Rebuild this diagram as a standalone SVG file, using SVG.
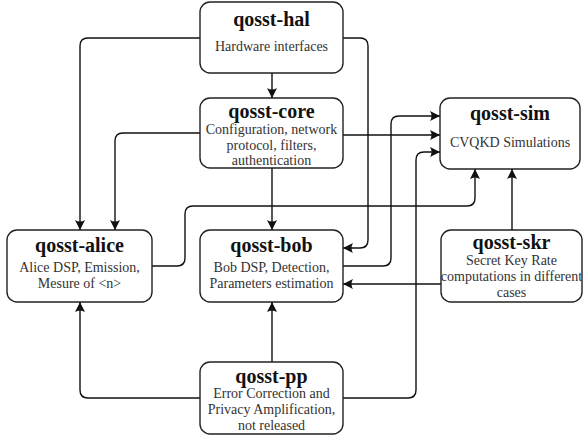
<svg xmlns="http://www.w3.org/2000/svg" width="584" height="441" viewBox="0 0 584 441">
<style>
.box{fill:#fff;stroke:#222;stroke-width:1.4}
text{font-family:'Liberation Serif','Times New Roman','DejaVu Serif',serif;text-anchor:middle}
.t{font-weight:bold;font-size:20px;fill:#111}
.d{font-size:14px;fill:#333}
.c{fill:none;stroke:#111;stroke-width:1.4;marker-end:url(#ah)}
</style>
<defs>
<marker id="ah" viewBox="-11 -6 12 12" refX="0" refY="0" markerWidth="12" markerHeight="12" orient="auto" markerUnits="userSpaceOnUse">
<path d="M0,0 L-10,-5 Q-7,0 -10,5 Z" fill="#111"/>
</marker>
</defs>
<g id="connectors">
<path class="c" d="M272,73 V98"/>
<path class="c" d="M200,38 H88 Q80,38 80,46 V230"/>
<path class="c" d="M200,133 H123 Q115,133 115,141 V230"/>
<path class="c" d="M343,38 H360 Q368,38 368,46 V240 Q368,248 360,248 H343"/>
<path class="c" d="M343,135 H440"/>
<path class="c" d="M272,168 V230"/>
<path class="c" d="M343,266 H383 Q391,266 391,258 V124 Q391,116 399,116 H440"/>
<path class="c" d="M152,266 H177 Q185,266 185,258 V214 Q185,206 193,206 H467 Q475,206 475,198 V169"/>
<path class="c" d="M512,230 V169"/>
<path class="c" d="M441,284 H343"/>
<path class="c" d="M200,398 H88 Q80,398 80,390 V302"/>
<path class="c" d="M272,362 V302"/>
<path class="c" d="M343,398 H408 Q416,398 416,390 V160 Q416,152 424,152 H440"/>
</g>
<g id="hal">
<rect class="box" x="200" y="2" width="143" height="71" rx="10"/>
<text class="t" x="271.5" y="26">qosst-hal</text>
<text class="d" x="271.5" y="51">Hardware interfaces</text>
</g>
<g id="core">
<rect class="box" x="200" y="98" width="143" height="70" rx="10"/>
<text class="t" x="271.5" y="118">qosst-core</text>
<text class="d" x="271.5" y="134">Configuration, network</text>
<text class="d" x="271.5" y="150">protocol, filters,</text>
<text class="d" x="271.5" y="165">authentication</text>
</g>
<g id="sim">
<rect class="box" x="440" y="98" width="140" height="71" rx="10"/>
<text class="t" x="510" y="120">qosst-sim</text>
<text class="d" x="510" y="147">CVQKD Simulations</text>
</g>
<g id="alice">
<rect class="box" x="7" y="230" width="145" height="72" rx="10"/>
<text class="t" x="79.5" y="252">qosst-alice</text>
<text class="d" x="79.5" y="272">Alice DSP, Emission,</text>
<text class="d" x="79.5" y="288">Mesure of &lt;n&gt;</text>
</g>
<g id="bob">
<rect class="box" x="200" y="230" width="143" height="72" rx="10"/>
<text class="t" x="271.5" y="252">qosst-bob</text>
<text class="d" x="271.5" y="272">Bob DSP, Detection,</text>
<text class="d" x="271.5" y="288">Parameters estimation</text>
</g>
<g id="skr">
<rect class="box" x="441" y="230" width="141" height="72" rx="10"/>
<text class="t" x="511.5" y="249">qosst-skr</text>
<text class="d" x="511.5" y="265">Secret Key Rate</text>
<text class="d" x="511.5" y="281">computations in different</text>
<text class="d" x="511.5" y="297">cases</text>
</g>
<g id="pp">
<rect class="box" x="200" y="362" width="143" height="72" rx="10"/>
<text class="t" x="271.5" y="383">qosst-pp</text>
<text class="d" x="271.5" y="398">Error Correction and</text>
<text class="d" x="271.5" y="414">Privacy Amplification,</text>
<text class="d" x="271.5" y="430">not released</text>
</g>
</svg>
